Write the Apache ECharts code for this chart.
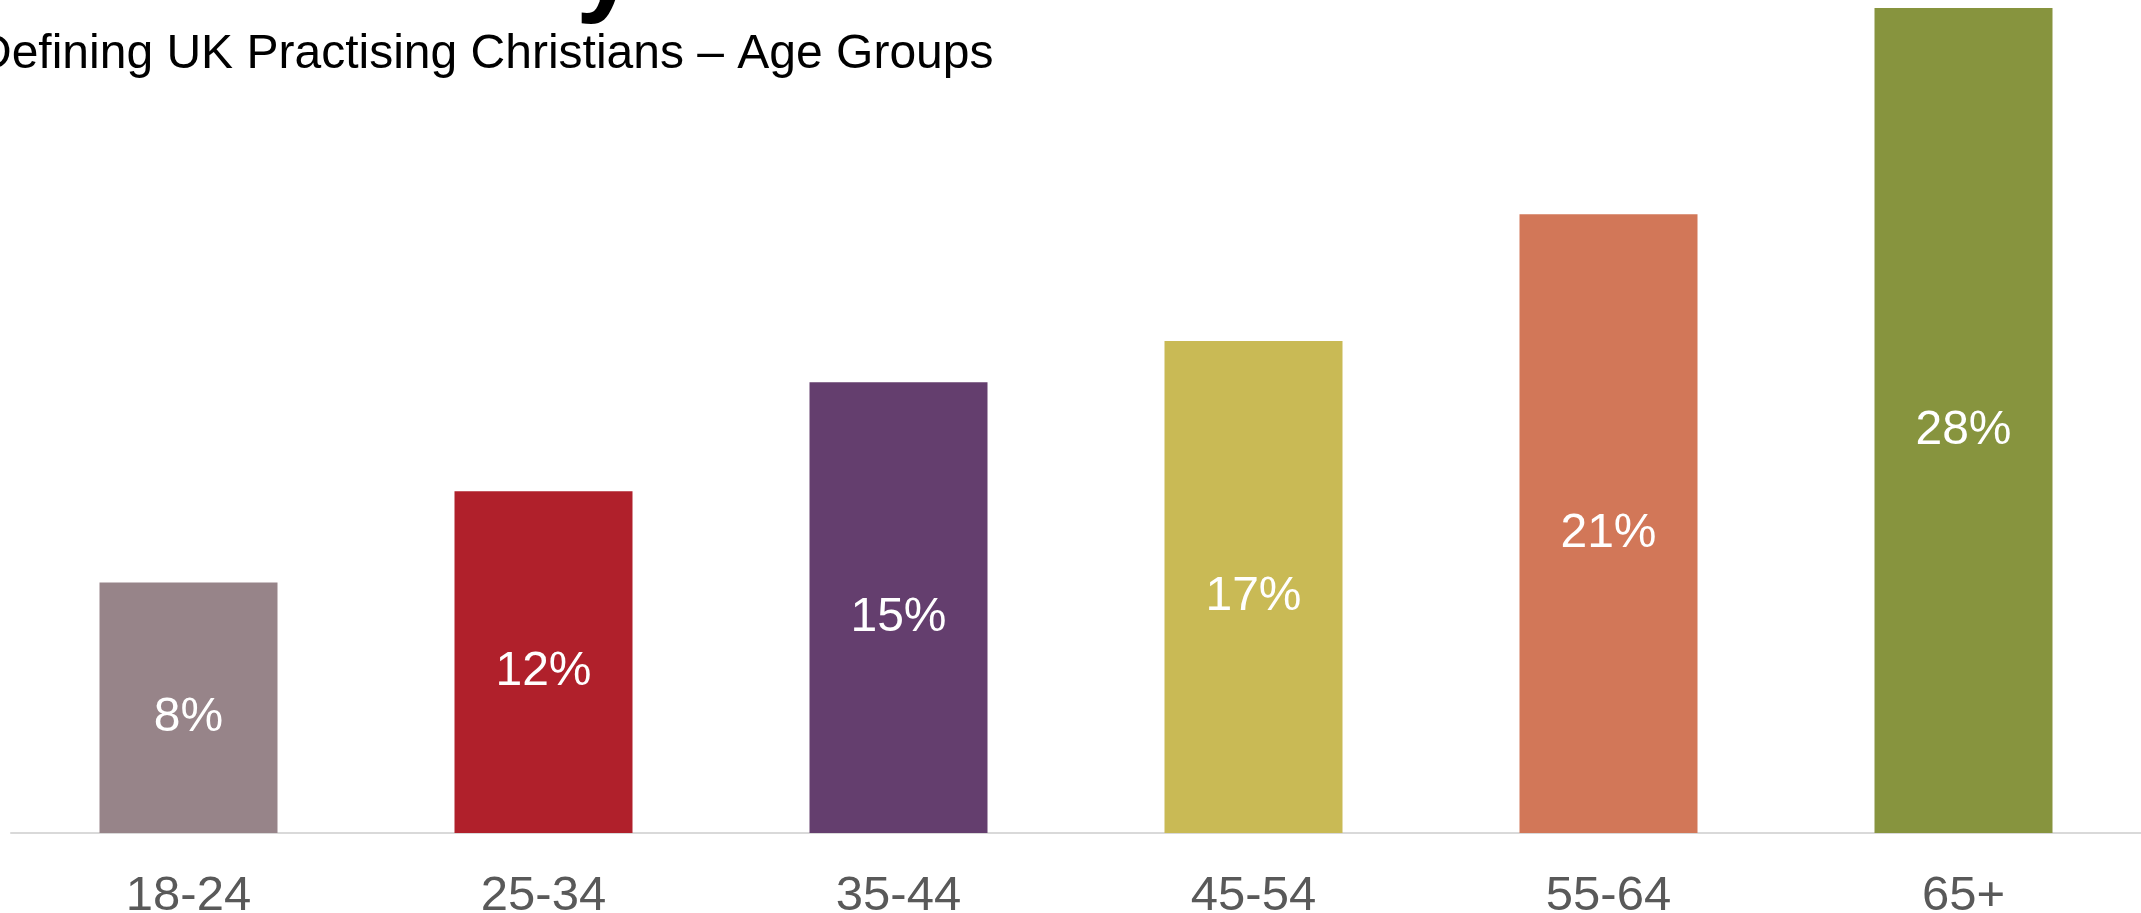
<!DOCTYPE html>
<html>
<head>
<meta charset="utf-8">
<script src="https://cdn.jsdelivr.net/npm/echarts@6/dist/echarts.min.js"></script>
<style>
html,body{margin:0;padding:0;background:#fff;}
#chart{width:2141px;height:913px;}
</style>
</head>
<body>
<div id="chart"></div>
<script>
const categories = ['18-24', '25-34', '35-44', '45-54', '55-64', '65+'];
const values = [8.5, 11.6, 15.3, 16.7, 21.0, 28.0];
const valueLabels = ['8%', '12%', '15%', '17%', '21%', '28%'];
const barColors = ['#978489', '#B0202B', '#643E6E', '#C9BA55', '#D27758', '#87943E'];
const subtitleText = 'Defining UK Practising Christians \u2013 Age Groups';

const FONT = '"Liberation Sans", Arial, sans-serif';
const chart = echarts.init(document.getElementById('chart'), null, {renderer: 'canvas'});

chart.setOption({
  animation: false,
  backgroundColor: '#ffffff',
  grid: {left: 11, right: 0, top: 8, bottom: 80, containLabel: false, outerBoundsMode: 'none'},
  xAxis: {
    type: 'category',
    data: categories,
    axisLine: {show: true, lineStyle: {color: '#D9D9D9', width: 2}},
    axisTick: {show: false},
    axisLabel: {color: '#595959', fontSize: 49, fontFamily: FONT, margin: 39}
  },
  yAxis: {
    type: 'value', min: 0, max: 28, show: false,
    splitLine: {show: false}
  },
  series: [{
    type: 'bar',
    barWidth: 178,
    data: values.map((v, i) => ({value: v, itemStyle: {color: barColors[i]}})),
    label: {
      show: true,
      position: 'inside',
      offset: [0, 10],
      color: '#ffffff',
      fontSize: 48,
      fontFamily: FONT,
      formatter: p => valueLabels[p.dataIndex]
    }
  }],
  graphic: [
    {
      type: 'text', left: -23, top: 31,
      style: {text: subtitleText, fill: '#000000', font: '48px "Liberation Sans", Arial, sans-serif'}
    },
    {
      type: 'text', left: 576, top: -84,
      style: {text: 'y', fill: '#000000', font: 'bold 110px "Liberation Sans", Arial, sans-serif'}
    }
  ]
});
</script>
</body>
</html>
